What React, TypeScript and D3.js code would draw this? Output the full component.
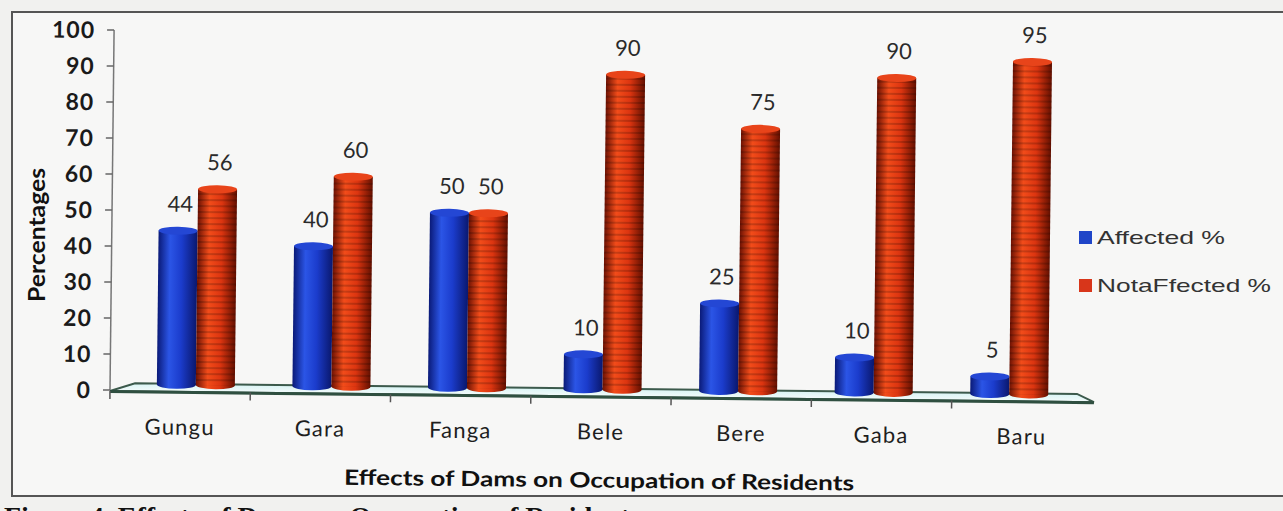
import React from "react";
import * as d3 from "d3";

const categories = ["Gungu", "Gara", "Fanga", "Bele", "Bere", "Gaba", "Baru"];
const affected = [44, 40, 50, 10, 25, 10, 5];
const notAffected = [56, 60, 50, 90, 75, 90, 95];
const yTicks = [0, 10, 20, 30, 40, 50, 60, 70, 80, 90, 100];
const seriesNames = ["Affected %", "NotaFfected %"];

const W = 1283;
const H = 511;

const App = () => {
  // front plane (axis) and back plane (bars) of the 3D floor
  const xFront = d3.scaleBand().domain(categories).range([110, 1092]);
  const xBack = d3.scaleBand().domain(categories).range([128, 1077]);
  const xInner = d3.scaleBand().domain(seriesNames).range([-39, 39]);
  const yFront = d3.scaleLinear().domain([0, 100]).range([390, 30]);
  const yBack = d3.scaleLinear().domain([0, 100]).range([384, 34]);

  const bw = xInner.bandwidth();
  const ery = 4;

  const bars = categories.flatMap((c, i) =>
    [affected[i], notAffected[i]].map((v, j) => ({
      cat: c,
      key: seriesNames[j],
      value: v,
      x: xBack(c)! + xBack.bandwidth() / 2 + xInner(seriesNames[j])!,
    }))
  );

  return (
    <svg width={W} height={H} style={{ position: "absolute", left: 0, top: 0, background: "#f1f1ef" }}>
      <defs>
        <linearGradient id="gBlue" x1="0" x2="1" y1="0" y2="0">
          <stop offset="0" stopColor="#0a1a78" />
          <stop offset="0.3" stopColor="#2b55e6" />
          <stop offset="0.6" stopColor="#1b3ccc" />
          <stop offset="1" stopColor="#0a186e" />
        </linearGradient>
        <linearGradient id="gRed" x1="0" x2="1" y1="0" y2="0">
          <stop offset="0" stopColor="#6e1203" />
          <stop offset="0.3" stopColor="#f24c1a" />
          <stop offset="0.62" stopColor="#dc3510" />
          <stop offset="1" stopColor="#641000" />
        </linearGradient>
        <pattern id="stripes" width="6" height="6" patternUnits="userSpaceOnUse">
          <rect width="6" height="2" fill="#000" opacity="0.18" />
        </pattern>
        <linearGradient id="gFloor" x1="0" x2="0" y1="0" y2="1">
          <stop offset="0" stopColor="#d8f4f4" />
          <stop offset="1" stopColor="#f4fbfb" />
        </linearGradient>
      </defs>

      <rect x={12} y={12} width={1290} height={484} fill="#f7f7f6" stroke="#555" strokeWidth={2} />

      <g transform="rotate(0.65, 110, 390)">
        {/* floor */}
        <polygon
          points={`110,391 1094,391 1077,383 135,383`}
          fill="url(#gFloor)"
          stroke="#3c5a4c"
          strokeWidth={2}
        />
        <line x1={110} x2={1094} y1={391.5} y2={391.5} stroke="#2f4f40" strokeWidth={3} />
        {/* y axis */}
        <line x1={110} x2={110} y1={yFront(100)} y2={yFront(0)} stroke="#777" strokeWidth={1.5} />
        {yTicks.map((t) => (
          <g key={t}>
            <line x1={103} x2={110} y1={yFront(t)} y2={yFront(t)} stroke="#666" strokeWidth={1.5} />
            <text
              x={91}
              y={yFront(t)}
              dy="0.36em"
              textAnchor="end"
              fontFamily="Lato, sans-serif"
              fontWeight={700}
              fontSize={23}
              letterSpacing={1}
              fill="#1a1a1a"
            >
              {t}
            </text>
          </g>
        ))}
        {/* x ticks */}
        {categories.map((c) => (
          <line key={c} x1={xFront(c)!} x2={xFront(c)!} y1={391} y2={399} stroke="#555" strokeWidth={1.5} />
        ))}
        {categories.map((c) => (
          <text
            key={c}
            x={xFront(c)! + xFront.bandwidth() / 2}
            y={434}
            textAnchor="middle"
            fontFamily="Lato, sans-serif"
            fontSize={22}
            letterSpacing={1.2}
            fill="#1e1e1e"
          >
            {c}
          </text>
        ))}

        {/* cylinders */}
        {bars.map((b) => {
          const top = yBack(b.value);
          const base = yBack(0);
          const isBlue = b.key === seriesNames[0];
          const grad = isBlue ? "url(#gBlue)" : "url(#gRed)";
          const topFill = isBlue ? "#2447d4" : "#e8441a";
          return (
            <g key={b.cat + b.key}>
              <ellipse cx={b.x + bw / 2} cy={base} rx={bw / 2} ry={ery} fill={grad} />
              <rect x={b.x} y={top} width={bw} height={base - top} fill={grad} />
              {!isBlue && <rect x={b.x} y={top} width={bw} height={base - top} fill="url(#stripes)" />}
              <ellipse cx={b.x + bw / 2} cy={top} rx={bw / 2} ry={ery} fill={topFill} />
            </g>
          );
        })}

        {/* data labels */}
        {bars.map((b) => (
          <text
            key={"l" + b.cat + b.key}
            x={b.x + bw / 2 + 2}
            y={yBack(b.value) - 19}
            textAnchor="middle"
            fontFamily="Lato, sans-serif"
            fontSize={22}
            fill="#2a2a2a"
          >
            {b.value}
          </text>
        ))}

        <text
          x={600}
          y={482}
          textAnchor="middle"
          fontFamily="Lato, sans-serif"
          fontWeight={700}
          fontSize={21}
          textLength={510}
          lengthAdjust="spacingAndGlyphs"
          fill="#111"
        >
          Effects of Dams on Occupation of Residents
        </text>
      </g>

      <text
        transform="translate(45,235) rotate(-90)"
        textAnchor="middle"
        fontFamily="Lato, sans-serif"
        fontWeight={700}
        fontSize={22}
        textLength={134}
        lengthAdjust="spacingAndGlyphs"
        fill="#111"
      >
        Percentages
      </text>

      {/* legend */}
      {seriesNames.map((s, i) => (
        <g key={s} transform={`translate(1079, ${231 + i * 48})`}>
          <rect width={13} height={13} fill={i === 0 ? "#1f45c8" : "#d8361a"} />
          <text
            x={18}
            y={13}
            fontFamily="'Liberation Sans', Arial, sans-serif"
            fontSize={19}
            textLength={i === 0 ? 128 : 174}
            lengthAdjust="spacingAndGlyphs"
            fill="#333"
          >
            {s}
          </text>
        </g>
      ))}

      {/* caption, cut off by the photo edge as in the reference */}
      <text x={4} y={526} fontFamily="'Liberation Serif', serif" fontWeight={700} fontSize={28} fill="#111">
        Figure 4. Effects of Dams on Occupation of Residents
      </text>
    </svg>
  );
};

export default App;
